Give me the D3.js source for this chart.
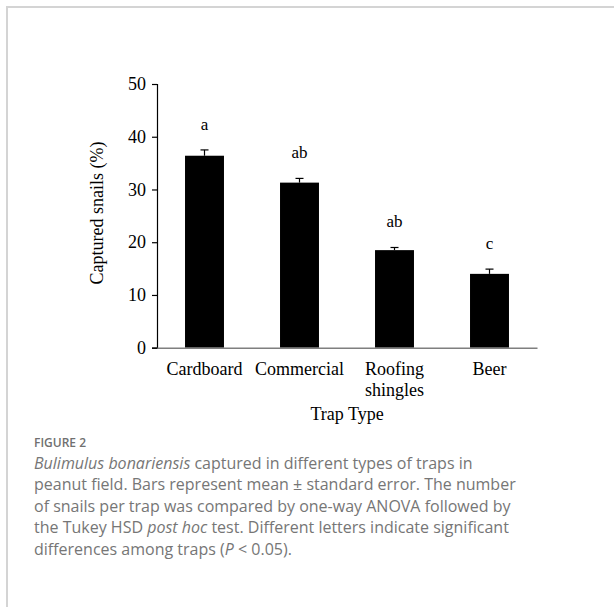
<!DOCTYPE html>
<html>
<head>
<meta charset="utf-8">
<script src="https://cdn.jsdelivr.net/npm/d3@7/dist/d3.min.js"></script>
<style>
  html, body { margin: 0; padding: 0; background: #fff; }
  svg { display: block; }
</style>
</head>
<body>
<script>
// Trap types and capture results
const categories = ["Cardboard", "Commercial", "Roofing shingles", "Beer"];
const meanCaptured = [36.4, 31.3, 18.5, 14.0];
const stdError = [1.1, 0.8, 0.5, 0.9];
const groupLetters = ["a", "ab", "ab", "c"];
const yTicks = [0, 10, 20, 30, 40, 50];
const captionTitle = "FIGURE 2";

const W = 614, H = 607;
const svg = d3.select("body").append("svg").attr("width", W).attr("height", H);

// Panel frame (top and left rules)
svg.append("line").attr("x1", 6).attr("x2", W).attr("y1", 7).attr("y2", 7)
  .attr("stroke", "#d4d4d4").attr("stroke-width", 2);
svg.append("line").attr("x1", 7).attr("x2", 7).attr("y1", 6).attr("y2", H)
  .attr("stroke", "#d4d4d4").attr("stroke-width", 2);

const serif = "'Liberation Serif', 'Times New Roman', serif";
const plot = { left: 157, right: 537, top: 84, bottom: 347.7 };

const x = d3.scaleBand().domain(categories)
  .range([plot.left, plot.right]).paddingInner(0.59).paddingOuter(0.295);
const y = d3.scaleLinear().domain([0, 50]).range([plot.bottom, plot.top]);

const data = categories.map((c, i) => ({ c, m: meanCaptured[i], se: stdError[i], g: groupLetters[i] }));

// Bars
svg.append("g").selectAll("rect").data(data).join("rect")
  .attr("x", d => x(d.c)).attr("width", x.bandwidth())
  .attr("y", d => y(d.m)).attr("height", d => y(0) - y(d.m))
  .attr("fill", "#000");

// Upper error whiskers
const eb = svg.append("g").attr("stroke", "#000").attr("stroke-width", 1.2);
data.forEach(d => {
  const cx = x(d.c) + x.bandwidth() / 2;
  eb.append("line").attr("x1", cx).attr("x2", cx).attr("y1", y(d.m)).attr("y2", y(d.m + d.se));
  eb.append("line").attr("x1", cx - 4).attr("x2", cx + 4).attr("y1", y(d.m + d.se)).attr("y2", y(d.m + d.se));
});

// Significance letters
svg.append("g").selectAll("text").data(data).join("text")
  .attr("x", d => x(d.c) + x.bandwidth() / 2)
  .attr("y", d => y(d.m + d.se) - 20)
  .attr("text-anchor", "middle")
  .attr("font-family", serif).attr("font-size", 17).attr("fill", "#000")
  .text(d => d.g);

// Y axis
const yAxis = svg.append("g").attr("transform", `translate(${plot.left},0)`)
  .call(d3.axisLeft(y).tickValues(yTicks).tickSize(5).tickPadding(6));
yAxis.select(".domain").attr("stroke", "#000").attr("stroke-width", 1.2);
yAxis.selectAll(".tick line").attr("stroke", "#000").attr("stroke-width", 1.2);
yAxis.selectAll(".tick text").attr("font-family", serif).attr("font-size", 18).attr("fill", "#000");

// X axis baseline
const xAxis = svg.append("g").attr("transform", `translate(0,${plot.bottom})`)
  .call(d3.axisBottom(x).tickSize(0).tickFormat(""));
xAxis.select(".domain").attr("stroke", "#7f7f7f").attr("stroke-width", 1.4);

// Category labels (the two-word label wraps onto two lines)
const catG = svg.append("g").attr("font-family", serif).attr("font-size", 18).attr("fill", "#000");
data.forEach(d => {
  const cx = x(d.c) + x.bandwidth() / 2;
  const lines = d.c === "Roofing shingles" ? ["Roofing", "shingles"] : [d.c];
  const t = catG.append("text").attr("text-anchor", "middle").attr("x", cx).attr("y", 375);
  lines.forEach((ln, k) => t.append("tspan").attr("x", cx).attr("dy", k === 0 ? 0 : 20.5).text(ln));
});

// Axis titles
svg.append("text").attr("x", 347).attr("y", 420).attr("text-anchor", "middle")
  .attr("font-family", serif).attr("font-size", 18).text("Trap Type");
svg.append("text").attr("transform", "translate(103,213) rotate(-90)")
  .attr("text-anchor", "middle")
  .attr("font-family", serif).attr("font-size", 18).text("Captured snails (%)");

// Caption
const sans = "'Open Sans', 'Noto Sans', sans-serif";
svg.append("text").attr("x", 34).attr("y", 447)
  .attr("font-family", sans).attr("font-size", 12).attr("font-weight", 600)
  .attr("fill", "#707070").text(captionTitle);

const captionLines = [
  [["Bulimulus bonariensis", true], [" captured in different types of traps in", false]],
  [["peanut field. Bars represent mean ", false], ["\u00B1", false], [" standard error. The number", false]],
  [["of snails per trap was compared by one-way ANOVA followed by", false]],
  [["the Tukey HSD ", false], ["post hoc", true], [" test. Different letters indicate significant", false]],
  [["differences among traps (", false], ["P", true], [" < 0.05).", false]]
];
const cap = svg.append("g").attr("font-family", sans).attr("font-size", 16).attr("fill", "#767676");
captionLines.forEach((parts, i) => {
  const t = cap.append("text").attr("x", 34).attr("y", 469 + i * 21.4);
  parts.forEach(([s, it]) => t.append("tspan").attr("font-style", it ? "italic" : "normal").text(s));
});
</script>
</body>
</html>
